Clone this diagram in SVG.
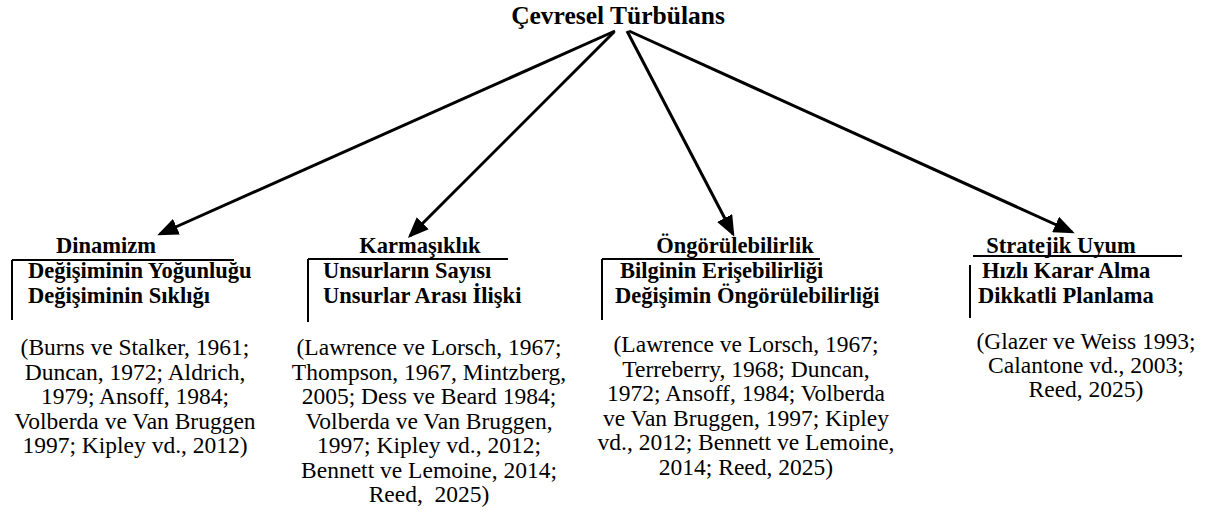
<svg xmlns="http://www.w3.org/2000/svg" width="1207" height="513" viewBox="0 0 1207 513">
<style>
text{font-family:'Liberation Serif','Times New Roman',serif;fill:#000}
.title{font-size:25.5px;font-weight:bold;text-anchor:middle}
.head{font-size:22.5px;font-weight:bold;text-anchor:middle}
.sub{font-size:22.5px;font-weight:bold}
.cit{font-size:23.5px;text-anchor:middle}
.rule{stroke:#000;stroke-width:2;fill:none}
.conn{stroke:#000;stroke-width:3;fill:none;marker-end:url(#ah)}
</style>
<defs>
<marker id="ah" markerUnits="userSpaceOnUse" markerWidth="21" markerHeight="17" refX="18" refY="8.5" orient="auto">
<path d="M0,0 L21,8.5 L0,17 Z" fill="#000"/>
</marker>
</defs>
<rect width="1207" height="513" fill="#fff"/>
<g id="root">
<text class="title" x="618" y="24">Çevresel Türbülans</text>
</g>
<g id="connectors">
<line class="conn" x1="615" y1="31" x2="160" y2="234"/>
<line class="conn" x1="614" y1="32" x2="410" y2="236"/>
<line class="conn" x1="627" y1="31" x2="733" y2="234"/>
<line class="conn" x1="629" y1="31" x2="1072" y2="232"/>
</g>
<g id="dinamizm">
<text class="head" x="106" y="253">Dinamizm</text>
<path class="rule" d="M12,260 H234 M12,260 V320"/>
<text class="sub" x="28" y="278">Değişiminin Yoğunluğu</text>
<text class="sub" x="28" y="303">Değişiminin Sıklığı</text>
<text class="cit" x="135" y="355">(Burns ve Stalker, 1961;</text>
<text class="cit" x="135" y="379.5">Duncan, 1972; Aldrich,</text>
<text class="cit" x="135" y="404">1979; Ansoff, 1984;</text>
<text class="cit" x="135" y="428.5">Volberda ve Van Bruggen</text>
<text class="cit" x="135" y="453">1997; Kipley vd., 2012)</text>
</g>
<g id="karmasiklik">
<text class="head" x="420" y="253">Karmaşıklık</text>
<path class="rule" d="M308,259 H508 M308,259 V322"/>
<text class="sub" x="323" y="278">Unsurların Sayısı</text>
<text class="sub" x="323" y="303">Unsurlar Arası İlişki</text>
<text class="cit" x="429" y="355">(Lawrence ve Lorsch, 1967;</text>
<text class="cit" x="429" y="379.5">Thompson, 1967, Mintzberg,</text>
<text class="cit" x="429" y="404">2005; Dess ve Beard 1984;</text>
<text class="cit" x="429" y="428.5">Volberda ve Van Bruggen,</text>
<text class="cit" x="429" y="453">1997; Kipley vd., 2012;</text>
<text class="cit" x="429" y="477.5">Bennett ve Lemoine, 2014;</text>
<text class="cit" x="429" y="502" xml:space="preserve">Reed,  2025)</text>
</g>
<g id="ongorulebilirlik">
<text class="head" x="735" y="253">Öngörülebilirlik</text>
<path class="rule" d="M602,259 H820 M602,259 V320"/>
<text class="sub" x="620" y="278">Bilginin Erişebilirliği</text>
<text class="sub" x="615" y="303">Değişimin Öngörülebilirliği</text>
<text class="cit" x="746" y="352">(Lawrence ve Lorsch, 1967;</text>
<text class="cit" x="746" y="376.5">Terreberry, 1968; Duncan,</text>
<text class="cit" x="746" y="401">1972; Ansoff, 1984; Volberda</text>
<text class="cit" x="746" y="425.5">ve Van Bruggen, 1997; Kipley</text>
<text class="cit" x="746" y="450">vd., 2012; Bennett ve Lemoine,</text>
<text class="cit" x="746" y="474.5">2014; Reed, 2025)</text>
</g>
<g id="stratejik-uyum">
<text class="head" x="1061" y="253">Stratejik Uyum</text>
<path class="rule" d="M973,256 H1182 M970,265 V318"/>
<text class="sub" x="982" y="278">Hızlı Karar Alma</text>
<text class="sub" x="978" y="303">Dikkatli Planlama</text>
<text class="cit" x="1086" y="349">(Glazer ve Weiss 1993;</text>
<text class="cit" x="1086" y="373">Calantone vd., 2003;</text>
<text class="cit" x="1086" y="397">Reed, 2025)</text>
</g>
</svg>
